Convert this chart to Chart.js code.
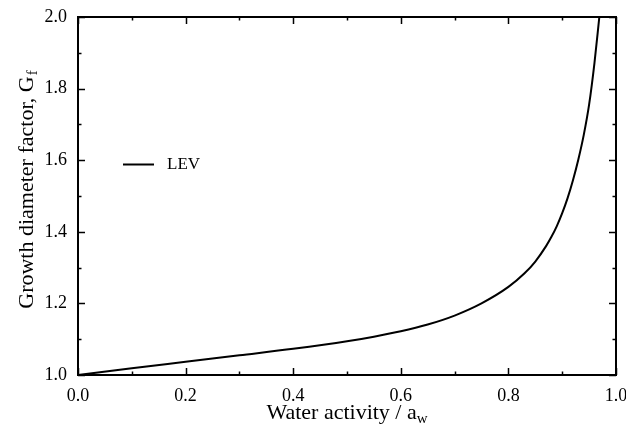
<!DOCTYPE html>
<html>
<head>
<meta charset="utf-8">
<script src="https://cdn.jsdelivr.net/npm/chart.js@4.4.1/dist/chart.umd.min.js"></script>
<style>
  html, body { margin: 0; padding: 0; background: #fff; }
  canvas { display: block; }
</style>
</head>
<body>
<canvas id="c" width="626" height="431"></canvas>
<script>
// Growth diameter factor vs. water activity (LEV)
const waterActivity = [0, 0.1, 0.2, 0.3, 0.4, 0.5, 0.55, 0.6, 0.65, 0.7, 0.75, 0.8, 0.83, 0.85, 0.87, 0.88, 0.89, 0.9, 0.91, 0.92, 0.93, 0.94, 0.95, 0.96, 0.969];
const growthFactor  = [1.0, 1.019, 1.037, 1.055, 1.073, 1.094, 1.107, 1.122, 1.141, 1.166, 1.200, 1.246, 1.284, 1.317, 1.360, 1.386, 1.416, 1.452, 1.494, 1.544, 1.602, 1.670, 1.755, 1.872, 2.0];
const seriesLabel = 'LEV';

const xMajorTicks = [0, 0.2, 0.4, 0.6, 0.8, 1.0];
const xMinorTicks = [0.1, 0.3, 0.5, 0.7, 0.9];
const yMajorTicks = [1.0, 1.2, 1.4, 1.6, 1.8, 2.0];
const yMinorTicks = [1.1, 1.3, 1.5, 1.7, 1.9];

const serif = '"Liberation Serif", "DejaVu Serif", serif';

const points = waterActivity.map((x, i) => ({ x: x, y: growthFactor[i] }));

// Frame, inward ticks on all four sides, axis titles with subscripts, legend
const framePlugin = {
  id: 'frame',
  afterDraw(chart) {
    const ctx = chart.ctx;
    const xs = chart.scales.x, ys = chart.scales.y;
    const L = xs.left, R = xs.right, T = ys.top, B = ys.bottom;
    ctx.save();
    ctx.strokeStyle = '#000';
    ctx.lineWidth = 2;
    ctx.strokeRect(L, T, R - L, B - T);

    ctx.lineWidth = 1.5;
    const major = 7, minor = 3.5;
    ctx.beginPath();
    const xTick = (v, len) => {
      const p = Math.round(xs.getPixelForValue(v)) + 0.5;
      ctx.moveTo(p, B); ctx.lineTo(p, B - len);
      ctx.moveTo(p, T); ctx.lineTo(p, T + len);
    };
    const yTick = (v, len) => {
      const p = Math.round(ys.getPixelForValue(v)) + 0.5;
      ctx.moveTo(L, p); ctx.lineTo(L + len, p);
      ctx.moveTo(R, p); ctx.lineTo(R - len, p);
    };
    xMajorTicks.forEach(v => xTick(v, major));
    xMinorTicks.forEach(v => xTick(v, minor));
    yMajorTicks.forEach(v => yTick(v, major));
    yMinorTicks.forEach(v => yTick(v, minor));
    ctx.stroke();

    ctx.fillStyle = '#000';
    ctx.textBaseline = 'alphabetic';

    // x-axis title: Water activity / a_w
    const mainFont = '22px ' + serif, subFont = '15px ' + serif;
    const xMain = 'Water activity / a', xSub = 'w';
    ctx.font = mainFont; const w1 = ctx.measureText(xMain).width;
    ctx.font = subFont;  const w2 = ctx.measureText(xSub).width;
    const cx = (L + R) / 2;
    const sx = cx - (w1 + w2) / 2;
    const baseY = 419;
    ctx.font = mainFont; ctx.textAlign = 'left';
    ctx.fillText(xMain, sx, baseY);
    ctx.font = subFont;
    ctx.fillText(xSub, sx + w1, baseY + 4);

    // y-axis title: Growth diameter factor, G_f
    const yMain = 'Growth diameter factor, G', ySub = 'f';
    ctx.font = mainFont; const h1 = ctx.measureText(yMain).width;
    ctx.font = subFont;  const h2 = ctx.measureText(ySub).width;
    ctx.save();
    ctx.translate(33, 190);
    ctx.rotate(-Math.PI / 2);
    const sy = -(h1 + h2) / 2;
    ctx.font = mainFont;
    ctx.fillText(yMain, sy, 0);
    ctx.font = subFont;
    ctx.fillText(ySub, sy + h1 + 1, 4);
    ctx.restore();

    // legend
    const ds = chart.data.datasets[0];
    ctx.strokeStyle = ds.borderColor;
    ctx.lineWidth = ds.borderWidth;
    ctx.beginPath();
    ctx.moveTo(123, 164.5); ctx.lineTo(154, 164.5);
    ctx.stroke();
    ctx.font = '17px ' + serif;
    ctx.textBaseline = 'middle';
    ctx.fillText(ds.label, 167, 165);
    ctx.restore();
  }
};

new Chart(document.getElementById('c'), {
  type: 'scatter',
  data: {
    datasets: [{
      label: seriesLabel,
      data: points,
      showLine: true,
      borderColor: '#000',
      borderWidth: 2,
      pointRadius: 0,
      cubicInterpolationMode: 'monotone',
      fill: false
    }]
  },
  options: {
    responsive: false,
    animation: false,
    devicePixelRatio: 1,
    layout: { padding: { top: 17, right: 10, left: 0, bottom: 0 } },
    plugins: { legend: { display: false }, tooltip: { enabled: false } },
    scales: {
      x: {
        type: 'linear', min: 0, max: 1,
        grid: { display: false, drawTicks: false, tickLength: 0 }, border: { display: false },
        afterBuildTicks: s => { s.ticks = xMajorTicks.map(v => ({ value: v })); },
        afterFit: s => { s.height = 56; s.paddingLeft = 0; s.paddingRight = 0; },
        ticks: {
          padding: 10, color: '#000', maxRotation: 0,
          font: { family: serif, size: 18 },
          callback: v => Number(v).toFixed(1)
        }
      },
      y: {
        type: 'linear', min: 1, max: 2,
        grid: { display: false, drawTicks: false, tickLength: 0 }, border: { display: false },
        afterBuildTicks: s => { s.ticks = yMajorTicks.map(v => ({ value: v })); },
        afterFit: s => { s.width = 78; s.paddingTop = 0; s.paddingBottom = 0; },
        ticks: {
          padding: 11, color: '#000',
          font: { family: serif, size: 18 },
          callback: v => Number(v).toFixed(1)
        }
      }
    }
  },
  plugins: [framePlugin]
});
</script>
</body>
</html>
